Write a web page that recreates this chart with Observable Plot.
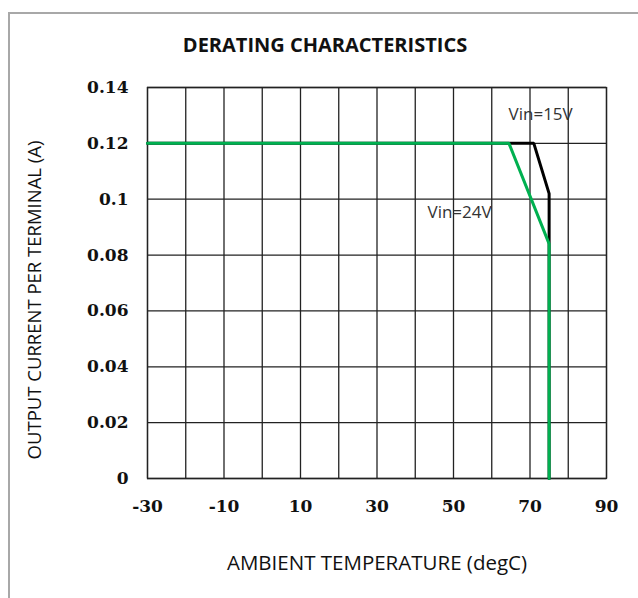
<!DOCTYPE html>
<html>
<head>
<meta charset="utf-8">
<script src="https://cdn.jsdelivr.net/npm/d3@7"></script>
<script src="https://cdn.jsdelivr.net/npm/@observablehq/plot@0.6"></script>
<style>
  html, body { margin: 0; padding: 0; background: #fff; }
  #page { position: relative; width: 638px; height: 598px; overflow: hidden; background: #fff; }
  #frame { position: absolute; left: 8px; top: 12px; width: 640px; height: 600px;
           border-left: 2px solid #a8a8a8; border-top: 2px solid #a8a8a8; box-sizing: border-box; }
  #title { position: absolute; left: 0; top: 0; width: 638px; height: 70px; line-height: 90px;
           text-align: center; font-family: "Open Sans", sans-serif; font-weight: bold; font-size: 20px; color: #111; padding-left: 12px; box-sizing: border-box; }
  #chart { position: absolute; left: 0; top: 70px; }
</style>
</head>
<body>
<div id="page">
  <div id="frame"></div>
  <div id="title">DERATING CHARACTERISTICS</div>
  <div id="chart"></div>
</div>
<script>
// Series: Vin=15V
const temp15 = [-30, 71, 75, 75];
const current15 = [0.12, 0.12, 0.102, 0];
// Series: Vin=24V
const temp24 = [-30, 64.5, 75, 75];
const current24 = [0.12, 0.12, 0.084, 0];
// Ticks
const xTickLabels = [-30, -10, 10, 30, 50, 70, 90];
const xGridValues = [-30, -20, -10, 0, 10, 20, 30, 40, 50, 60, 70, 80, 90];
const yTickLabels = [0, 0.02, 0.04, 0.06, 0.08, 0.1, 0.12, 0.14];
// Axis titles
const xTitle = "AMBIENT TEMPERATURE (degC)";
const yTitle = "OUTPUT CURRENT PER TERMINAL (A)";
// Annotations
const labelText = ["Vin=15V", "Vin=24V"];
const labelTemp = [64.4, 43.2];
const labelCurrent = [0.1303, 0.0952];

const s15 = temp15.map((t, i) => ({t, c: current15[i]}));
const s24 = temp24.map((t, i) => ({t, c: current24[i]}));
const labels = labelText.map((s, i) => ({s, t: labelTemp[i], c: labelCurrent[i]}));

const tickFamily = "'DejaVu Serif', serif";
const sans = "'Open Sans', sans-serif";

const chart = Plot.plot({
  width: 638,
  height: 528,
  marginLeft: 147,
  marginRight: 32,
  marginTop: 17,
  marginBottom: 120,
  style: {background: "transparent", color: "#111"},
  x: {domain: [-30, 90]},
  y: {domain: [0, 0.14]},
  marks: [
    Plot.gridX(xGridValues, {stroke: "#222", strokeOpacity: 1, strokeWidth: 1.3}),
    Plot.gridY(yTickLabels, {stroke: "#222", strokeOpacity: 1, strokeWidth: 1.3}),
    Plot.frame({stroke: "#222", strokeWidth: 1.3}),
    Plot.axisX(xTickLabels, {tickSize: 0, tickPadding: 21, label: null, fontSize: 17, fontFamily: tickFamily, fontWeight: "bold", tickFormat: d => String(d)}),
    Plot.axisY(yTickLabels, {tickSize: 0, tickPadding: 19, label: null, fontSize: 17, fontFamily: tickFamily, fontWeight: "bold", tickFormat: d => String(+d.toFixed(2))}),
    Plot.text([xTitle], {frameAnchor: "bottom", dy: 85, lineAnchor: "middle", fontSize: 20.5, fontFamily: sans, fill: "#111"}),
    Plot.text([yTitle], {frameAnchor: "left", dx: -112, dy: 17, rotate: -90, textAnchor: "middle", lineAnchor: "middle", fontSize: 18.5, fontFamily: sans, fill: "#111"}),
    Plot.line(s15, {x: "t", y: "c", stroke: "#000", strokeWidth: 3, strokeLinejoin: "miter"}),
    Plot.line(s24, {x: "t", y: "c", stroke: "#00b050", strokeWidth: 3, strokeLinejoin: "miter"}),
    Plot.text(labels, {x: "t", y: "c", text: "s", textAnchor: "start", fontSize: 17, fill: "#333", fontFamily: sans})
  ]
});
document.getElementById("chart").appendChild(chart);
</script>
</body>
</html>
